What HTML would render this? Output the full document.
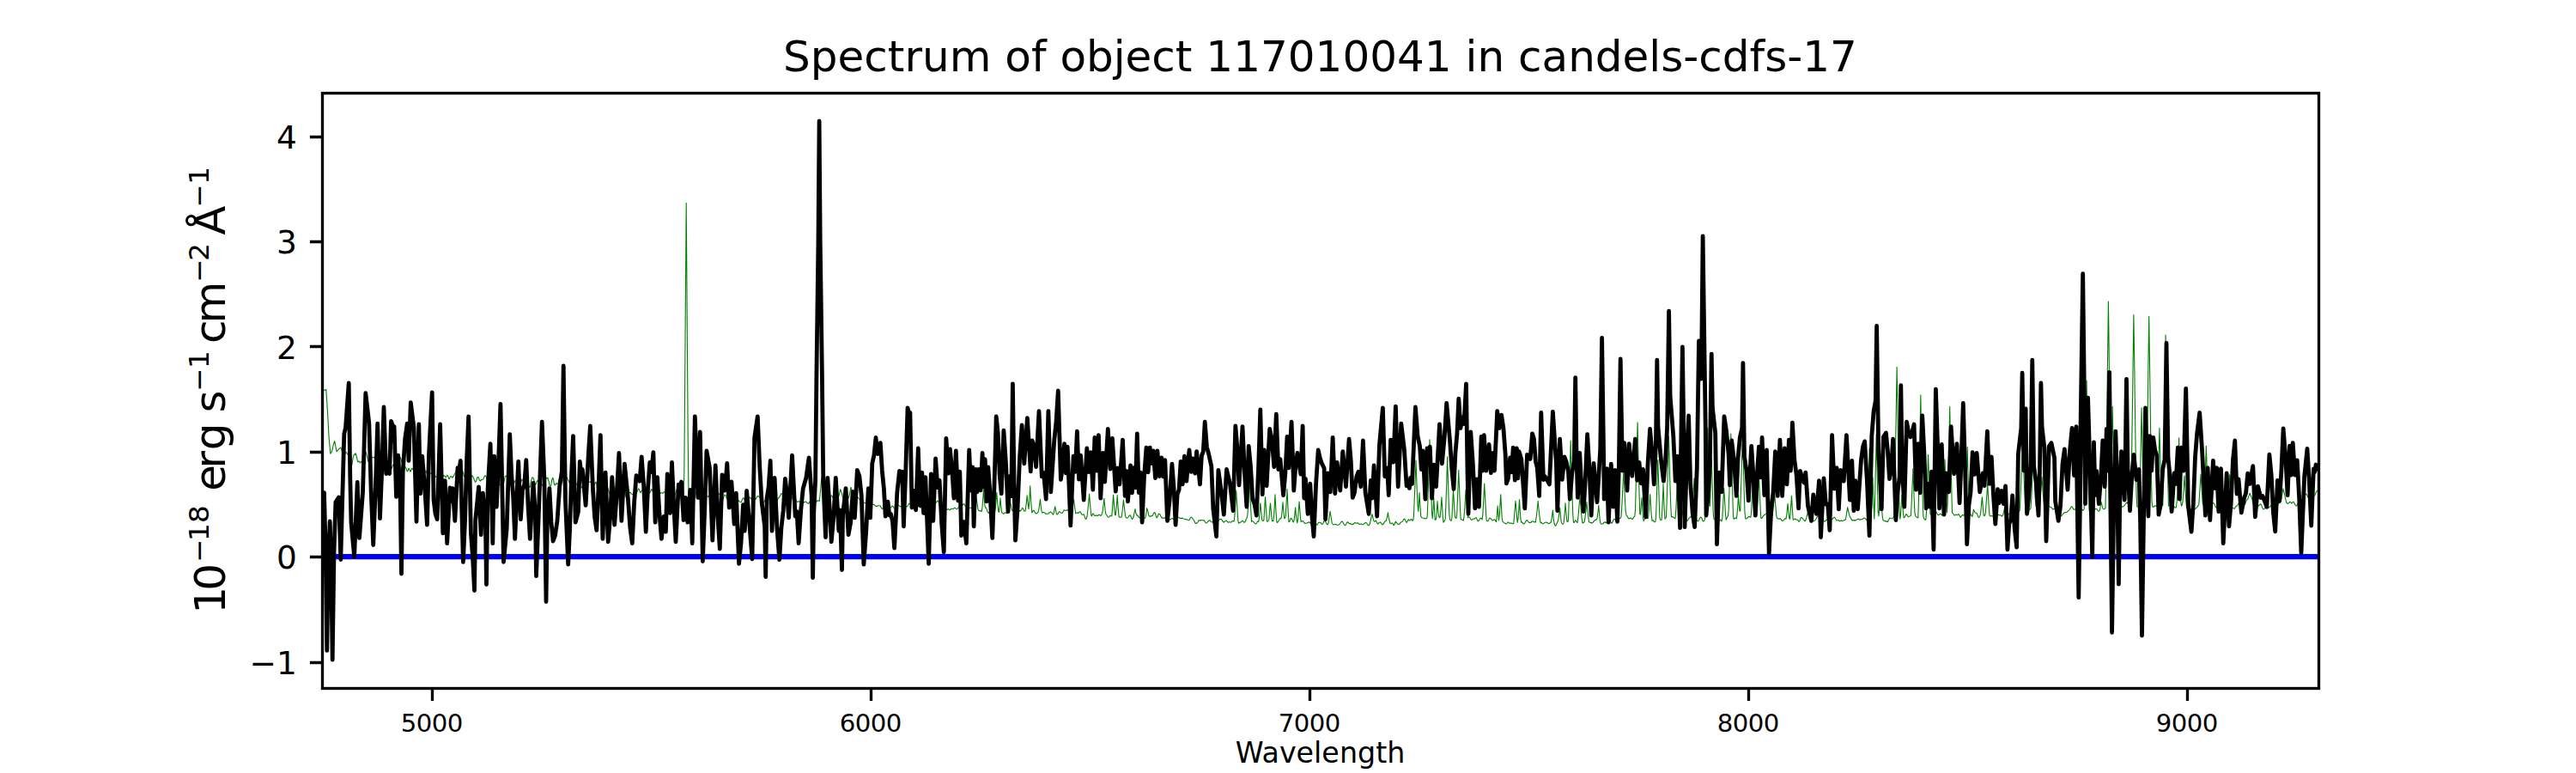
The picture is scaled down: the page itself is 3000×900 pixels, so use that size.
<!DOCTYPE html>
<html lang="en"><head><meta charset="utf-8"><title>Spectrum of object 117010041 in candels-cdfs-17</title>
<style>html,body{margin:0;padding:0;background:#fff}body{width:3000px;height:900px;overflow:hidden}</style></head>
<body>
<svg width="3000" height="900" viewBox="0 0 3000 900" style="display:block">
<rect width="3000" height="900" fill="#fff"/>
<defs><clipPath id="ax"><rect x="375" y="108" width="2325" height="693"/></clipPath></defs>
<g clip-path="url(#ax)" fill="none" stroke-linejoin="round">
<line x1="375" y1="648.00" x2="2700" y2="648.00" stroke="#0000ff" stroke-width="6.25"/>
<polyline points="375.0,455.0 377.4,454.4 379.8,453.4 381.5,480.0 383.0,508.0 384.8,528.2 386.5,526.0 388.0,519.0 389.7,513.5 392.1,525.8 394.5,523.0 397.0,520.8 399.5,530.7 400.0,535.9 400.8,533.3 401.5,529.8 402.2,525.9 403.0,526.4 403.8,527.2 404.5,528.7 405.2,529.1 406.0,529.2 406.8,529.8 407.5,531.9 408.2,536.9 409.0,540.6 409.8,541.4 410.5,537.3 411.2,532.6 412.0,530.1 412.8,528.9 413.5,529.4 414.2,527.7 415.0,530.3 415.8,533.9 416.5,537.7 417.2,537.7 418.0,536.9 418.8,537.4 419.5,538.9 420.2,538.1 421.0,537.3 421.8,538.8 422.5,540.2 423.2,539.7 424.0,534.8 424.8,530.7 425.5,527.7 426.2,526.7 427.0,529.5 427.8,533.2 428.5,536.6 429.2,536.6 430.0,535.5 430.8,534.9 431.5,533.6 432.2,532.3 433.0,531.8 433.8,532.8 434.5,532.7 435.2,532.4 436.0,532.3 436.8,536.1 437.5,540.5 438.2,544.1 439.0,545.8 439.8,544.6 440.5,543.1 441.2,538.5 442.0,536.0 442.8,531.5 443.5,532.0 444.2,533.7 445.0,538.9 445.8,542.6 446.5,543.1 447.2,542.5 448.0,540.1 448.8,538.9 449.5,537.7 450.2,539.2 451.0,541.0 451.8,543.0 452.5,541.9 453.2,543.0 454.0,543.4 454.8,546.1 455.5,545.7 456.2,545.4 457.0,542.9 457.8,541.8 458.5,539.6 459.2,540.4 460.0,540.0 460.8,541.2 461.5,541.1 462.2,542.1 463.0,543.2 463.8,543.7 464.5,540.4 465.2,535.8 466.0,532.3 466.8,533.8 467.5,536.1 468.2,538.9 469.0,539.9 469.8,541.5 470.5,542.5 471.2,543.4 472.0,543.5 472.8,544.5 473.5,547.1 474.2,549.0 475.0,548.1 475.8,545.5 476.5,545.7 477.2,547.8 478.0,549.3 478.8,547.3 479.5,545.5 480.2,545.3 481.0,546.7 481.8,547.1 482.5,546.2 483.2,546.2 484.0,546.4 484.8,547.9 485.5,548.5 486.2,550.4 487.0,550.6 487.8,551.1 488.5,549.8 489.2,550.4 490.0,549.1 490.8,547.8 491.5,545.4 492.2,545.5 493.0,547.6 493.8,549.9 494.5,550.7 495.2,549.6 496.0,548.2 496.8,549.5 497.5,552.4 498.2,555.5 499.0,555.5 499.8,553.4 500.5,551.5 501.2,551.0 502.0,551.4 502.8,550.8 503.5,548.6 504.2,546.9 505.0,547.6 505.8,551.2 506.5,553.8 507.2,555.4 508.0,554.8 508.8,555.2 509.5,555.3 510.2,556.0 511.0,555.7 511.8,555.5 512.5,554.0 513.2,553.7 514.0,552.5 514.8,553.8 515.5,553.8 516.2,554.5 517.0,553.6 517.8,554.6 518.5,555.0 519.2,555.9 520.0,554.5 520.8,553.3 521.5,554.0 522.2,555.7 523.0,557.7 523.8,556.7 524.5,554.9 525.2,554.6 526.0,554.8 526.8,556.1 527.5,555.4 528.2,554.1 529.0,552.8 529.8,551.2 530.5,550.2 531.2,548.8 532.0,550.2 532.8,553.6 533.5,558.5 534.2,561.0 535.0,561.3 535.8,558.8 536.5,554.5 537.2,550.7 538.0,547.7 538.8,548.4 539.5,550.6 540.2,553.9 541.0,554.8 541.8,552.9 542.5,550.9 543.2,550.2 544.0,552.7 544.8,554.3 545.5,556.6 546.2,558.0 547.0,560.4 547.8,559.6 548.5,557.1 549.2,554.3 550.0,553.8 550.8,554.9 551.5,556.4 552.2,558.5 553.0,560.5 553.8,561.4 554.5,560.5 555.2,558.0 556.0,555.8 556.8,555.4 557.5,556.2 558.2,559.2 559.0,559.4 559.8,560.1 560.5,558.4 561.2,558.5 562.0,558.2 562.8,557.7 563.5,556.4 564.2,554.7 565.0,553.6 565.8,554.5 566.5,555.7 567.2,559.1 568.0,557.7 568.8,556.5 569.5,552.7 570.2,553.8 571.0,555.6 571.8,558.3 572.5,559.2 573.2,558.9 574.0,560.1 574.8,561.6 575.5,563.6 576.2,561.6 577.0,559.1 577.8,555.5 578.5,554.5 579.2,555.3 580.0,559.0 580.8,563.1 581.5,564.5 582.2,564.8 583.0,564.4 583.8,565.8 584.5,565.9 585.2,565.8 586.0,564.7 586.8,561.8 587.5,558.6 588.2,554.6 589.0,554.1 589.8,554.5 590.5,555.3 591.2,555.2 592.0,556.9 592.8,560.2 593.5,563.8 594.2,564.3 595.0,563.2 595.8,562.4 596.5,561.9 597.2,563.3 598.0,562.5 598.8,562.6 599.5,560.3 600.2,559.8 601.0,559.3 601.8,559.1 602.5,560.7 603.2,561.8 604.0,564.6 604.8,564.4 605.5,564.8 606.2,562.3 607.0,560.9 607.8,558.1 608.5,558.7 609.2,559.2 610.0,561.6 610.8,561.8 611.5,563.3 612.2,565.2 613.0,568.4 613.8,568.8 614.5,566.7 615.2,565.1 616.0,566.2 616.8,567.5 617.5,566.4 618.2,561.9 619.0,558.6 619.8,555.8 620.5,556.1 621.2,556.4 622.0,559.5 622.8,562.1 623.5,564.8 624.2,563.4 625.0,560.7 625.8,559.5 626.5,560.2 627.2,561.4 628.0,559.9 628.8,559.1 629.5,559.5 630.2,562.1 631.0,563.8 631.8,565.6 632.5,564.5 633.2,563.4 634.0,561.0 634.8,559.4 635.5,558.2 636.2,556.2 637.0,556.9 637.8,556.0 638.5,559.0 639.2,560.7 640.0,565.2 640.8,566.3 641.5,566.0 642.2,561.9 643.0,557.7 643.8,556.2 644.5,558.5 645.2,562.5 646.0,564.9 646.8,564.6 647.5,563.2 648.2,562.5 649.0,563.5 649.8,563.3 650.5,560.8 651.2,557.7 652.0,558.0 652.8,559.3 653.5,560.9 654.2,559.0 655.0,558.8 655.8,559.2 656.5,563.9 657.2,565.7 658.0,565.6 658.8,560.1 659.5,557.6 660.2,555.6 661.0,557.9 661.8,559.1 662.5,560.6 663.2,562.1 664.0,563.4 664.8,564.7 665.5,562.7 666.2,560.1 667.0,556.9 667.8,557.2 668.5,559.2 669.2,563.0 670.0,564.4 670.8,565.0 671.5,563.3 672.2,562.9 673.0,563.1 673.8,563.6 674.5,564.8 675.2,565.0 676.0,566.8 676.8,566.6 677.5,568.1 678.2,566.8 679.0,566.8 679.8,564.3 680.5,564.6 681.2,565.0 682.0,566.2 682.8,565.3 683.5,562.4 684.2,561.0 685.0,560.2 685.8,561.6 686.5,561.1 687.2,561.4 688.0,560.7 688.8,562.2 689.5,563.5 690.2,565.0 691.0,565.1 691.8,565.1 692.5,563.8 693.2,562.4 694.0,561.1 694.8,563.7 695.5,568.3 696.2,573.0 697.0,574.4 697.8,572.3 698.5,569.3 699.2,567.5 700.0,569.2 700.8,570.7 701.5,571.3 702.2,570.1 703.0,571.4 703.8,573.1 704.5,574.1 705.2,571.7 706.0,568.8 706.8,566.8 707.5,567.4 708.2,569.4 709.0,572.4 709.8,574.6 710.5,574.9 711.2,574.0 712.0,571.9 712.8,571.1 713.5,571.1 714.2,572.3 715.0,572.0 715.8,570.1 716.5,567.6 717.2,566.6 718.0,566.2 718.8,567.3 719.5,570.2 720.2,573.7 721.0,576.1 721.8,576.1 722.5,575.5 723.2,574.2 724.0,572.5 724.8,572.0 725.5,571.2 726.2,571.0 727.0,570.5 727.8,572.8 728.5,576.7 729.2,579.1 730.0,580.0 730.8,578.7 731.5,577.7 732.2,575.6 733.0,573.6 733.8,573.4 734.5,573.4 735.2,575.0 736.0,575.2 736.8,575.9 737.5,575.4 738.2,575.2 739.0,574.9 739.8,575.0 740.5,574.7 741.2,574.3 742.0,572.6 742.8,570.6 743.5,568.9 744.2,569.7 745.0,571.6 745.8,573.8 746.5,572.6 747.2,571.3 748.0,570.5 748.8,572.9 749.5,575.0 750.2,575.3 751.0,573.3 751.8,571.2 752.5,569.4 753.2,568.7 754.0,568.7 754.8,570.3 755.5,572.7 756.2,574.1 757.0,573.5 757.8,571.6 758.5,569.6 759.2,570.2 760.0,571.4 760.8,574.2 761.5,574.9 762.2,573.8 763.0,571.8 763.8,571.4 764.5,572.8 765.2,573.4 766.0,573.2 766.8,572.9 767.5,574.2 768.2,574.5 769.0,574.6 769.8,573.5 770.5,573.7 771.2,574.1 772.0,574.5 772.8,573.1 773.5,573.0 774.2,572.2 775.0,574.0 775.8,573.1 776.5,573.9 777.2,573.7 778.0,574.6 778.8,574.9 779.5,574.2 780.2,573.8 781.0,572.7 781.8,571.8 782.5,570.8 783.2,571.0 784.0,572.2 784.8,574.5 785.5,575.9 786.2,576.2 787.0,573.7 787.8,570.9 788.5,569.4 789.2,570.7 790.0,572.6 790.8,574.2 791.5,573.7 792.2,573.0 793.0,571.4 793.8,573.0 794.5,575.8 795.2,578.5 796.0,578.0 796.8,549.7 797.5,464.6 798.2,369.2 799.0,266.4 799.2,236.4 799.8,312.4 800.5,413.8 801.2,509.0 802.0,581.8 802.8,581.2 803.5,578.3 804.2,576.3 805.0,576.0 805.8,577.3 806.5,578.6 807.2,579.8 808.0,580.3 808.8,579.8 809.5,577.3 810.2,574.5 811.0,572.4 811.8,571.7 812.5,572.5 813.2,573.9 814.0,576.3 814.8,576.8 815.5,575.8 816.2,573.7 817.0,573.9 817.8,574.8 818.5,576.5 819.2,576.1 820.0,577.3 820.8,577.7 821.5,578.7 822.2,577.7 823.0,577.5 823.8,577.7 824.5,578.5 825.2,578.1 826.0,576.7 826.8,576.3 827.5,577.8 828.2,580.3 829.0,580.8 829.8,578.9 830.5,576.4 831.2,575.4 832.0,575.7 832.8,576.2 833.5,576.0 834.2,577.0 835.0,577.5 835.8,578.2 836.5,576.5 837.2,575.8 838.0,574.5 838.8,575.9 839.5,578.9 840.2,582.4 841.0,583.9 841.8,582.3 842.5,579.7 843.2,577.8 844.0,575.9 844.8,576.4 845.5,577.2 846.2,580.2 847.0,580.3 847.8,580.2 848.5,579.1 849.2,579.7 850.0,579.7 850.8,578.8 851.5,577.5 852.2,577.1 853.0,578.6 853.8,579.9 854.5,580.0 855.2,579.2 856.0,578.5 856.8,579.4 857.5,579.4 858.2,579.8 859.0,580.3 859.8,581.9 860.5,583.2 861.2,583.8 862.0,584.5 862.8,584.8 863.5,584.3 864.2,582.3 865.0,580.4 865.8,579.7 866.5,580.7 867.2,581.6 868.0,581.8 868.8,580.5 869.5,580.2 870.2,579.8 871.0,581.1 871.8,580.5 872.5,580.3 873.2,578.9 874.0,579.6 874.8,580.7 875.5,582.4 876.2,581.7 877.0,580.3 877.8,578.9 878.5,580.1 879.2,581.3 880.0,581.5 880.8,579.5 881.5,578.3 882.2,577.5 883.0,577.7 883.8,578.1 884.5,578.9 885.2,579.7 886.0,580.0 886.8,581.4 887.5,582.5 888.2,584.0 889.0,584.2 889.8,584.4 890.5,583.4 891.2,581.6 892.0,580.9 892.8,579.8 893.5,580.3 894.2,579.3 895.0,580.5 895.8,580.8 896.5,582.2 897.2,582.0 898.0,582.0 898.8,580.5 899.5,579.7 900.2,578.4 901.0,579.2 901.8,580.1 902.5,582.7 903.2,584.1 904.0,585.2 904.8,583.2 905.5,582.1 906.2,579.8 907.0,579.7 907.8,578.0 908.5,577.7 909.2,575.5 910.0,574.5 910.8,574.8 911.5,576.8 912.2,578.9 913.0,579.9 913.8,580.4 914.5,579.2 915.2,578.3 916.0,577.8 916.8,579.5 917.5,579.9 918.2,578.7 919.0,577.7 919.8,578.4 920.5,580.3 921.2,580.3 922.0,580.2 922.8,579.9 923.5,580.6 924.2,579.9 925.0,579.3 925.8,579.5 926.5,581.3 927.2,583.2 928.0,584.0 928.8,584.4 929.5,584.0 930.2,583.9 931.0,584.0 931.8,584.6 932.5,585.0 933.2,584.6 934.0,583.9 934.8,583.8 935.5,584.2 936.2,585.0 937.0,584.6 937.8,584.2 938.5,584.0 939.2,584.6 940.0,585.7 940.8,586.0 941.5,586.5 942.2,585.0 943.0,584.2 943.8,582.6 944.5,581.1 945.2,574.8 946.0,568.0 946.1,566.6 946.8,571.6 947.5,577.4 948.2,581.0 949.0,582.5 949.8,583.8 950.5,584.2 951.2,583.7 952.0,582.6 952.8,582.9 953.5,583.2 954.2,583.5 955.0,577.0 955.8,568.2 956.5,559.4 956.8,557.0 957.2,562.0 958.0,569.8 958.8,577.2 959.5,581.5 960.2,582.6 961.0,583.1 961.8,582.0 962.5,580.8 963.2,579.2 964.0,579.1 964.8,579.2 965.5,579.9 966.2,579.4 967.0,578.8 967.8,577.1 968.5,577.0 969.2,577.6 970.0,579.6 970.8,580.1 971.5,579.8 972.2,578.7 973.0,578.2 973.8,577.7 974.5,577.3 975.2,577.9 976.0,579.0 976.8,577.9 977.5,575.4 978.2,572.2 978.7,569.9 979.0,570.5 979.8,572.6 980.5,574.7 981.2,578.2 982.0,580.3 982.8,581.8 983.5,581.2 984.2,580.3 985.0,579.1 985.8,579.2 986.5,579.5 987.2,580.2 988.0,580.2 988.8,578.2 989.5,574.8 990.2,571.3 991.0,567.4 991.8,570.6 992.5,574.2 993.2,577.2 994.0,578.7 994.8,578.2 995.5,577.9 996.2,578.5 997.0,578.4 997.8,578.2 998.5,578.5 999.2,578.9 1000.0,580.5 1000.8,581.4 1001.5,581.9 1002.2,580.6 1003.0,580.2 1003.8,580.7 1004.5,582.6 1005.2,584.0 1006.0,585.0 1006.8,585.7 1007.5,585.6 1008.2,585.7 1009.0,585.1 1009.8,585.0 1010.5,585.2 1011.2,586.3 1012.0,586.8 1012.8,585.5 1013.5,583.5 1014.2,583.3 1015.0,584.9 1015.8,586.8 1016.5,587.2 1017.2,587.5 1018.0,587.3 1018.8,588.5 1019.5,588.8 1020.2,589.6 1021.0,589.4 1021.8,589.2 1022.5,588.8 1023.2,588.7 1024.0,588.8 1024.8,589.0 1025.5,589.4 1026.2,591.1 1027.0,592.1 1027.8,592.5 1028.5,591.2 1029.2,590.0 1030.0,589.0 1030.8,588.9 1031.5,589.2 1032.2,590.3 1033.0,590.5 1033.8,590.6 1034.5,589.1 1035.2,589.4 1036.0,589.8 1036.8,591.3 1037.5,591.0 1038.2,590.3 1039.0,589.1 1039.8,589.4 1040.5,590.1 1041.2,591.9 1042.0,592.4 1042.8,593.1 1043.5,592.2 1044.2,591.5 1045.0,589.1 1045.8,587.8 1046.5,588.0 1047.2,588.9 1048.0,589.6 1048.8,589.6 1049.5,590.0 1050.2,589.7 1051.0,587.8 1051.8,586.3 1052.5,585.8 1053.2,587.5 1054.0,588.9 1054.8,590.0 1055.5,589.9 1056.2,589.9 1057.0,589.0 1057.8,588.0 1058.5,586.7 1059.2,586.3 1060.0,586.8 1060.8,587.9 1061.5,589.3 1062.2,589.9 1063.0,589.2 1063.8,588.5 1064.5,588.2 1065.2,589.0 1066.0,588.8 1066.8,589.0 1067.5,589.2 1068.2,589.9 1069.0,589.8 1069.8,589.5 1070.5,589.5 1071.2,590.7 1072.0,591.0 1072.8,591.3 1073.5,591.0 1074.2,591.6 1075.0,591.8 1075.8,591.1 1076.5,589.6 1077.2,588.7 1078.0,588.7 1078.8,588.6 1079.5,587.4 1080.2,585.9 1081.0,585.3 1081.8,586.7 1082.5,588.5 1083.2,589.8 1084.0,589.7 1084.8,589.0 1085.5,587.8 1086.2,587.7 1087.0,587.4 1087.8,587.8 1088.5,587.1 1089.2,586.7 1090.0,585.4 1090.8,584.4 1091.5,583.1 1092.2,583.4 1093.0,584.2 1093.8,587.3 1094.5,589.6 1095.2,591.0 1096.0,589.6 1096.8,588.8 1097.5,588.3 1098.2,590.0 1099.0,589.7 1099.8,590.0 1100.5,589.5 1101.2,591.3 1102.0,592.7 1102.8,593.6 1103.5,593.2 1104.2,592.8 1105.0,592.9 1105.8,593.6 1106.5,593.7 1107.2,592.9 1108.0,592.3 1108.8,592.2 1109.5,592.8 1110.2,592.5 1111.0,591.9 1111.8,591.2 1112.5,591.5 1113.2,592.1 1114.0,592.8 1114.8,592.4 1115.5,591.9 1116.2,590.9 1117.0,590.1 1117.8,588.7 1118.5,588.3 1119.2,588.3 1120.0,588.8 1120.8,588.5 1121.5,587.4 1122.2,586.6 1123.0,586.9 1123.8,588.5 1124.5,589.9 1125.2,590.3 1126.0,590.7 1126.8,591.3 1127.5,592.0 1128.2,591.6 1129.0,591.3 1129.8,591.2 1130.5,591.7 1131.2,591.5 1132.0,591.1 1132.8,591.2 1133.5,591.0 1134.2,591.8 1135.0,591.7 1135.8,590.4 1136.5,585.3 1137.2,580.2 1137.2,580.3 1138.0,586.0 1138.8,592.1 1139.5,594.3 1140.2,594.6 1141.0,594.6 1141.8,595.0 1142.5,595.0 1143.2,595.7 1144.0,590.5 1144.8,580.5 1145.4,570.1 1145.5,570.7 1146.2,581.0 1147.0,589.1 1147.8,591.3 1148.5,591.3 1149.2,593.1 1150.0,595.8 1150.8,596.9 1151.5,597.4 1152.2,596.1 1153.0,595.4 1153.8,594.4 1154.5,594.3 1155.2,595.0 1156.0,595.9 1156.8,596.7 1157.5,596.1 1158.2,595.7 1159.0,593.8 1159.8,586.0 1160.5,576.6 1160.8,573.4 1161.2,579.0 1162.0,588.4 1162.8,595.5 1163.5,596.3 1164.2,589.5 1165.0,580.0 1165.8,589.1 1166.5,596.2 1167.2,596.9 1168.0,597.7 1168.8,598.4 1169.5,597.8 1170.2,596.9 1171.0,596.6 1171.8,597.5 1172.5,597.7 1173.2,595.7 1174.0,593.3 1174.8,588.7 1175.5,586.5 1176.2,582.7 1176.2,583.6 1177.0,586.4 1177.8,590.9 1178.5,594.1 1179.2,594.6 1180.0,594.1 1180.8,594.1 1181.5,594.1 1182.2,594.1 1183.0,594.0 1183.8,594.4 1184.5,594.8 1185.2,595.3 1186.0,594.9 1186.8,595.0 1187.5,594.5 1188.2,595.2 1189.0,593.9 1189.8,593.4 1190.5,591.3 1191.2,592.0 1192.0,593.0 1192.8,595.1 1193.5,595.1 1194.2,594.8 1195.0,588.1 1195.8,581.0 1196.1,576.7 1196.5,580.4 1197.2,587.2 1198.0,592.6 1198.8,582.3 1199.5,570.3 1199.7,565.7 1200.2,575.7 1201.0,588.0 1201.8,597.0 1202.5,595.8 1203.2,594.9 1204.0,594.1 1204.8,595.6 1205.5,596.8 1206.2,598.0 1207.0,597.5 1207.8,597.6 1208.5,596.7 1209.2,595.9 1210.0,592.1 1210.8,586.7 1211.5,581.3 1212.2,589.0 1213.0,594.9 1213.8,597.1 1214.5,596.9 1215.2,596.3 1216.0,596.8 1216.8,597.1 1217.5,598.2 1218.2,598.3 1219.0,598.1 1219.8,598.2 1220.5,598.2 1221.2,597.9 1222.0,596.6 1222.8,596.3 1223.5,595.9 1224.2,596.7 1225.0,597.0 1225.8,598.4 1226.5,599.1 1227.2,597.5 1228.0,593.3 1228.7,589.7 1228.8,590.2 1229.5,594.0 1230.2,597.6 1231.0,598.9 1231.8,598.9 1232.5,597.2 1233.2,596.3 1234.0,595.8 1234.8,596.5 1235.5,596.9 1236.2,597.2 1237.0,597.4 1237.8,596.3 1238.5,595.2 1239.2,593.8 1240.0,594.3 1240.8,594.3 1241.5,594.4 1242.2,593.9 1243.0,593.7 1243.8,594.0 1244.5,594.7 1245.2,595.1 1246.0,595.3 1246.8,594.7 1247.5,594.5 1248.2,593.6 1249.0,590.2 1249.8,585.6 1250.4,581.1 1250.5,581.3 1251.2,587.4 1252.0,593.2 1252.8,598.0 1253.5,597.2 1254.2,597.1 1255.0,596.9 1255.8,597.6 1256.5,596.8 1257.2,595.9 1258.0,595.9 1258.8,596.7 1259.5,598.7 1260.2,599.1 1261.0,599.2 1261.8,598.7 1262.5,599.5 1263.2,601.7 1264.0,603.9 1264.8,604.5 1265.5,602.6 1266.2,600.0 1267.0,592.5 1267.8,584.4 1268.5,576.5 1268.6,575.0 1269.2,583.1 1270.0,591.8 1270.8,600.0 1271.5,601.0 1272.2,599.0 1273.0,597.9 1273.8,598.6 1274.5,600.4 1275.2,600.5 1276.0,600.2 1276.8,599.8 1277.5,600.5 1278.2,600.4 1279.0,600.0 1279.8,599.2 1280.5,599.3 1281.2,600.1 1282.0,600.4 1282.8,599.6 1283.5,597.8 1284.2,594.9 1285.0,588.3 1285.8,581.1 1285.8,580.2 1286.5,587.5 1287.2,594.9 1288.0,598.9 1288.8,599.6 1289.5,600.7 1290.2,601.9 1291.0,602.4 1291.8,601.9 1292.5,600.9 1293.2,600.2 1294.0,600.3 1294.8,600.9 1295.5,592.4 1296.2,581.9 1296.6,576.2 1297.0,581.6 1297.8,591.6 1298.5,599.4 1299.2,599.9 1300.0,592.5 1300.8,583.4 1301.2,576.6 1301.5,581.3 1302.2,591.8 1303.0,601.3 1303.8,602.3 1304.5,602.1 1305.2,602.2 1306.0,602.3 1306.8,597.7 1307.5,591.2 1308.2,584.1 1308.4,582.1 1309.0,587.6 1309.8,594.2 1310.5,600.7 1311.2,602.4 1312.0,603.1 1312.8,602.9 1313.5,602.7 1314.2,601.7 1315.0,600.4 1315.8,599.9 1316.5,600.0 1317.2,602.0 1318.0,603.8 1318.8,604.5 1319.5,603.3 1320.2,601.3 1321.0,597.1 1321.8,593.8 1322.0,592.6 1322.5,595.7 1323.2,598.3 1324.0,600.3 1324.8,600.0 1325.5,600.9 1326.2,602.1 1327.0,602.3 1327.8,603.1 1328.5,603.0 1329.2,603.0 1330.0,603.0 1330.8,602.9 1331.5,603.3 1332.2,602.9 1333.0,603.6 1333.8,602.9 1334.5,599.9 1335.2,595.7 1335.6,591.6 1336.0,592.6 1336.8,595.1 1337.5,599.0 1338.2,600.6 1339.0,601.4 1339.8,600.8 1340.5,601.1 1341.2,600.6 1342.0,600.7 1342.8,599.3 1343.5,597.8 1344.2,596.6 1345.0,597.0 1345.8,599.1 1346.5,601.6 1347.2,602.9 1348.0,601.8 1348.8,599.6 1349.5,598.0 1350.2,598.4 1351.0,599.0 1351.8,601.1 1352.5,601.9 1353.2,603.2 1354.0,602.8 1354.8,603.4 1355.5,603.3 1356.2,603.3 1357.0,602.3 1357.8,601.4 1358.5,599.4 1359.2,599.0 1360.0,599.8 1360.8,602.1 1361.5,604.0 1362.2,604.8 1363.0,605.2 1363.8,604.0 1364.5,603.8 1365.2,603.5 1366.0,604.0 1366.8,604.2 1367.5,604.9 1368.2,606.1 1369.0,606.1 1369.8,604.7 1370.5,602.5 1371.2,601.6 1372.0,601.8 1372.8,602.5 1373.5,603.1 1374.2,603.3 1375.0,603.7 1375.8,603.3 1376.5,603.4 1377.2,603.1 1378.0,603.6 1378.8,604.1 1379.5,604.7 1380.2,604.7 1381.0,604.4 1381.8,604.7 1382.5,604.9 1383.2,605.5 1384.0,605.7 1384.8,605.7 1385.5,604.7 1386.2,603.0 1387.0,602.2 1387.8,602.3 1388.5,603.6 1389.2,604.0 1390.0,605.0 1390.8,606.5 1391.5,608.1 1392.2,609.4 1393.0,609.1 1393.8,609.4 1394.5,608.5 1395.2,607.6 1396.0,605.9 1396.8,605.7 1397.5,605.9 1398.2,606.2 1399.0,605.5 1399.8,605.8 1400.5,605.8 1401.2,606.0 1402.0,605.5 1402.8,606.4 1403.5,607.8 1404.2,609.1 1405.0,608.8 1405.8,608.4 1406.5,607.5 1407.2,607.0 1408.0,606.1 1408.8,605.8 1409.5,606.1 1410.2,607.1 1411.0,608.0 1411.8,607.9 1412.5,607.7 1413.2,606.0 1414.0,604.5 1414.8,602.6 1415.5,602.4 1416.2,603.3 1417.0,604.7 1417.8,605.9 1418.5,606.3 1419.2,605.9 1420.0,605.1 1420.8,604.4 1421.5,604.2 1422.2,604.7 1423.0,605.3 1423.8,606.8 1424.5,607.3 1425.2,608.2 1426.0,607.4 1426.8,607.0 1427.5,606.0 1428.2,606.2 1429.0,606.9 1429.8,607.9 1430.5,608.3 1431.2,607.8 1432.0,607.8 1432.8,608.0 1433.5,608.3 1434.2,607.6 1435.0,606.8 1435.8,606.6 1436.5,606.9 1437.2,607.0 1438.0,598.4 1438.8,586.9 1439.5,574.5 1439.7,571.0 1440.2,580.8 1441.0,593.9 1441.8,605.6 1442.5,609.4 1443.2,608.9 1444.0,608.2 1444.8,608.2 1445.5,607.5 1446.2,606.9 1447.0,606.2 1447.8,607.0 1448.5,607.8 1449.2,608.4 1450.0,607.4 1450.8,606.1 1451.5,603.7 1452.2,602.7 1453.0,598.7 1453.8,585.8 1454.5,569.9 1455.1,555.3 1455.2,558.4 1456.0,577.2 1456.8,594.0 1457.5,607.3 1458.2,606.4 1459.0,606.9 1459.8,607.5 1460.5,608.4 1461.2,609.2 1462.0,609.8 1462.8,610.0 1463.5,609.0 1464.2,607.8 1465.0,606.9 1465.8,607.2 1466.5,602.0 1467.2,593.4 1467.8,585.8 1468.0,587.6 1468.8,596.4 1469.5,604.2 1470.2,606.2 1471.0,606.5 1471.8,606.0 1472.5,596.1 1473.2,583.6 1473.6,578.6 1474.0,585.3 1474.8,597.9 1475.5,606.9 1476.2,607.2 1477.0,606.6 1477.8,605.1 1478.5,596.8 1479.2,588.3 1479.6,585.8 1480.0,591.8 1480.8,600.4 1481.5,606.6 1482.2,606.5 1483.0,606.7 1483.8,598.2 1484.5,584.6 1485.0,575.8 1485.2,580.2 1486.0,595.2 1486.8,607.1 1487.5,608.6 1488.2,607.9 1489.0,606.5 1489.8,605.5 1490.5,603.8 1491.2,603.8 1492.0,603.9 1492.8,598.6 1493.5,590.5 1494.0,584.7 1494.2,588.4 1495.0,596.7 1495.8,603.8 1496.5,603.2 1497.2,601.1 1498.0,587.9 1498.8,574.1 1499.0,569.2 1499.5,580.9 1500.2,596.3 1501.0,607.8 1501.8,607.0 1502.5,605.4 1503.2,603.4 1504.0,603.5 1504.8,604.9 1505.5,606.8 1506.2,608.0 1507.0,606.1 1507.8,599.6 1508.5,591.9 1508.6,590.9 1509.2,598.1 1510.0,605.2 1510.8,608.8 1511.5,605.0 1512.2,595.8 1513.0,585.1 1513.1,584.0 1513.8,593.3 1514.5,602.8 1515.2,607.6 1516.0,606.7 1516.8,606.8 1517.5,606.6 1518.2,608.0 1519.0,608.7 1519.8,609.5 1520.5,609.3 1521.2,609.2 1522.0,609.0 1522.8,608.6 1523.5,608.4 1524.2,607.8 1525.0,607.9 1525.8,608.8 1526.5,610.1 1527.2,610.8 1528.0,610.3 1528.8,610.6 1529.5,611.3 1530.2,611.3 1531.0,609.8 1531.8,608.3 1532.5,609.3 1533.2,610.7 1534.0,611.2 1534.8,609.7 1535.5,608.3 1536.2,608.3 1537.0,608.2 1537.8,608.7 1538.5,608.9 1539.2,610.2 1540.0,610.4 1540.8,609.5 1541.5,607.4 1542.2,606.6 1543.0,606.5 1543.8,607.7 1544.5,608.8 1545.2,610.3 1546.0,610.9 1546.8,610.2 1547.5,605.8 1548.2,600.9 1549.0,595.4 1549.8,600.0 1550.5,604.5 1551.2,609.0 1552.0,610.0 1552.8,610.9 1553.5,610.7 1554.2,610.8 1555.0,610.1 1555.8,610.8 1556.5,610.9 1557.2,611.2 1558.0,611.2 1558.8,611.1 1559.5,610.8 1560.2,610.0 1561.0,609.0 1561.8,607.9 1562.5,607.0 1563.2,607.1 1564.0,608.2 1564.8,609.7 1565.5,611.1 1566.2,611.6 1567.0,611.5 1567.8,610.1 1568.5,608.7 1569.2,607.7 1570.0,608.3 1570.8,609.0 1571.5,609.8 1572.2,609.4 1573.0,610.1 1573.8,610.0 1574.5,610.8 1575.2,610.2 1576.0,610.4 1576.8,609.3 1577.5,609.1 1578.2,608.5 1579.0,609.0 1579.8,609.2 1580.5,608.8 1581.2,609.1 1582.0,609.1 1582.8,610.3 1583.5,610.4 1584.2,610.3 1585.0,610.0 1585.8,610.1 1586.5,610.8 1587.2,610.7 1588.0,610.2 1588.8,609.6 1589.5,608.9 1590.2,608.7 1591.0,608.5 1591.8,609.5 1592.5,610.5 1593.2,611.7 1594.0,611.6 1594.8,611.0 1595.5,609.3 1596.2,605.8 1597.0,602.1 1597.8,598.9 1598.0,598.8 1598.5,600.8 1599.2,604.1 1600.0,606.5 1600.8,607.5 1601.5,606.7 1602.2,606.1 1603.0,607.3 1603.8,609.1 1604.5,610.1 1605.2,609.7 1606.0,608.7 1606.8,608.3 1607.5,607.9 1608.2,608.8 1609.0,609.6 1609.8,610.9 1610.5,610.5 1611.2,610.0 1612.0,608.3 1612.8,607.3 1613.5,606.8 1614.2,606.7 1615.0,604.0 1615.8,600.4 1616.4,596.8 1616.5,597.7 1617.2,602.2 1618.0,605.7 1618.8,609.0 1619.5,609.5 1620.2,609.7 1621.0,609.0 1621.8,609.0 1622.5,610.6 1623.2,611.7 1624.0,610.4 1624.8,608.2 1625.5,607.1 1626.2,608.4 1627.0,609.2 1627.8,610.3 1628.5,610.3 1629.2,610.7 1630.0,610.0 1630.8,608.9 1631.5,608.1 1632.2,607.7 1633.0,607.5 1633.8,606.4 1634.5,605.1 1635.2,604.2 1636.0,604.4 1636.8,605.8 1637.5,607.7 1638.2,608.4 1639.0,607.2 1639.8,605.5 1640.5,604.9 1641.2,605.9 1642.0,606.0 1642.8,605.1 1643.5,604.4 1644.2,604.7 1645.0,606.3 1645.8,605.8 1646.5,599.6 1647.2,582.0 1648.0,563.8 1648.8,543.2 1649.0,536.1 1649.5,550.0 1650.2,569.7 1651.0,588.2 1651.8,595.5 1652.5,583.1 1653.0,573.6 1653.2,578.4 1654.0,590.5 1654.8,601.3 1655.5,602.5 1656.2,602.8 1657.0,603.1 1657.8,603.3 1658.5,603.5 1659.2,603.8 1660.0,604.0 1660.8,603.6 1661.5,603.5 1662.2,601.3 1663.0,580.6 1663.8,555.9 1664.5,529.6 1665.0,511.7 1665.2,520.7 1666.0,547.6 1666.8,572.9 1667.5,595.8 1668.2,603.6 1669.0,594.0 1669.8,580.0 1669.8,579.5 1670.5,593.2 1671.2,605.1 1672.0,605.3 1672.8,602.7 1673.5,592.0 1674.0,583.5 1674.2,586.6 1675.0,596.5 1675.8,601.6 1676.5,602.8 1677.2,601.5 1678.0,592.4 1678.8,580.8 1678.9,578.7 1679.5,588.8 1680.2,601.3 1681.0,608.1 1681.8,607.1 1682.5,606.0 1683.2,604.7 1684.0,584.8 1684.8,560.6 1685.5,534.8 1685.6,531.9 1686.2,553.8 1687.0,577.8 1687.8,598.4 1688.5,604.4 1689.2,605.8 1690.0,606.4 1690.8,603.9 1691.5,591.0 1692.2,576.2 1692.5,570.6 1693.0,579.0 1693.8,592.4 1694.5,601.7 1695.2,603.2 1696.0,603.3 1696.8,597.5 1697.5,579.4 1698.2,560.9 1698.8,547.4 1699.0,554.5 1699.8,574.4 1700.5,592.0 1701.2,604.6 1702.0,604.7 1702.8,605.2 1703.5,605.5 1704.2,606.2 1705.0,601.9 1705.8,591.8 1706.5,579.2 1707.0,570.4 1707.2,573.6 1708.0,585.1 1708.8,595.8 1709.5,602.8 1710.2,602.0 1711.0,601.9 1711.8,602.5 1712.5,604.0 1713.2,605.2 1714.0,605.3 1714.8,604.8 1715.5,604.4 1716.2,604.1 1717.0,604.2 1717.8,603.4 1718.5,602.9 1719.2,602.8 1720.0,604.4 1720.8,606.2 1721.5,607.0 1722.2,606.2 1723.0,605.0 1723.8,603.5 1724.5,603.4 1725.2,603.5 1726.0,605.0 1726.8,599.8 1727.5,587.4 1728.2,572.8 1728.7,563.1 1729.0,568.8 1729.8,583.4 1730.5,597.1 1731.2,606.0 1732.0,606.4 1732.8,606.8 1733.5,605.7 1734.2,604.2 1735.0,603.2 1735.8,603.3 1736.5,604.4 1737.2,605.2 1738.0,605.9 1738.8,605.7 1739.5,605.2 1740.2,604.9 1741.0,605.0 1741.8,606.7 1742.5,607.6 1743.2,602.0 1744.0,591.0 1744.1,589.1 1744.8,597.2 1745.5,605.8 1746.2,600.0 1747.0,588.6 1747.7,575.9 1747.8,577.2 1748.5,590.4 1749.2,602.9 1750.0,607.3 1750.8,607.9 1751.5,608.4 1752.2,609.0 1753.0,609.2 1753.8,610.0 1754.5,609.8 1755.2,609.0 1756.0,608.0 1756.8,608.1 1757.5,608.9 1758.2,609.0 1759.0,609.3 1759.8,608.9 1760.5,609.2 1761.2,609.6 1762.0,609.9 1762.8,609.2 1763.5,601.2 1764.2,592.6 1765.0,583.3 1765.8,592.6 1766.5,601.0 1767.2,608.3 1768.0,604.2 1768.8,593.6 1769.5,581.5 1770.2,594.2 1771.0,604.5 1771.8,608.3 1772.5,607.9 1773.2,608.6 1774.0,609.8 1774.8,609.9 1775.5,609.5 1776.2,608.2 1777.0,606.8 1777.8,605.8 1778.5,605.6 1779.2,606.7 1780.0,607.8 1780.8,608.3 1781.5,608.7 1782.2,608.2 1783.0,608.4 1783.8,607.1 1784.5,607.0 1785.2,606.8 1786.0,607.5 1786.8,607.9 1787.5,607.6 1788.2,608.1 1789.0,603.5 1789.8,597.4 1790.5,590.3 1791.2,583.3 1791.2,584.0 1792.0,592.2 1792.8,599.6 1793.5,605.7 1794.2,608.9 1795.0,608.2 1795.8,609.2 1796.5,609.8 1797.2,610.0 1798.0,609.1 1798.8,608.6 1799.5,608.3 1800.2,608.2 1801.0,608.0 1801.8,608.8 1802.5,608.8 1803.2,609.8 1804.0,609.4 1804.8,609.4 1805.5,608.5 1806.2,607.8 1807.0,604.6 1807.8,598.7 1808.4,594.1 1808.5,595.9 1809.2,603.2 1810.0,609.3 1810.8,611.5 1811.5,612.3 1812.2,611.6 1813.0,609.8 1813.8,607.3 1814.5,606.5 1815.2,602.5 1816.0,596.9 1816.6,591.4 1816.8,593.7 1817.5,600.6 1818.2,607.4 1819.0,609.6 1819.8,610.3 1820.5,610.1 1821.2,608.4 1822.0,599.8 1822.8,590.2 1823.0,585.9 1823.5,591.7 1824.2,600.3 1825.0,607.3 1825.8,607.6 1826.5,605.2 1827.2,582.8 1828.0,557.4 1828.8,529.8 1829.2,513.1 1829.5,523.4 1830.2,549.6 1831.0,574.7 1831.8,599.4 1832.5,608.3 1833.2,608.5 1834.0,607.0 1834.8,605.8 1835.5,606.7 1836.2,607.9 1837.0,608.6 1837.8,603.2 1838.5,595.5 1839.2,586.8 1840.0,579.3 1840.8,587.8 1841.5,596.7 1842.2,604.1 1843.0,609.1 1843.8,608.4 1844.5,608.4 1845.2,607.4 1846.0,602.4 1846.8,596.0 1847.5,588.6 1848.0,584.5 1848.2,587.5 1849.0,595.8 1849.8,602.4 1850.5,607.5 1851.2,608.2 1852.0,608.4 1852.8,608.3 1853.5,609.3 1854.2,608.5 1855.0,608.5 1855.8,607.1 1856.5,607.0 1857.2,605.6 1858.0,605.6 1858.8,604.8 1859.5,605.1 1860.2,602.4 1861.0,595.8 1861.8,588.4 1861.8,588.8 1862.5,597.1 1863.2,605.1 1864.0,609.4 1864.8,609.9 1865.5,610.3 1866.2,609.9 1867.0,609.7 1867.8,608.2 1868.5,608.2 1869.2,607.7 1870.0,608.7 1870.8,608.4 1871.5,608.4 1872.2,607.6 1873.0,606.0 1873.8,604.4 1874.5,604.2 1875.2,605.8 1876.0,608.2 1876.8,609.1 1877.5,609.0 1878.2,607.2 1879.0,605.4 1879.8,604.2 1880.5,604.5 1881.2,605.4 1882.0,605.8 1882.8,605.8 1883.5,605.1 1884.2,604.0 1885.0,603.4 1885.8,603.5 1886.5,603.7 1887.2,603.0 1888.0,601.8 1888.8,589.6 1889.5,576.0 1890.2,560.6 1890.8,548.7 1891.0,552.5 1891.8,568.3 1892.5,582.4 1893.2,595.1 1894.0,600.0 1894.8,600.5 1895.5,601.8 1896.2,603.2 1897.0,603.9 1897.8,603.5 1898.5,603.2 1899.2,603.0 1900.0,604.1 1900.8,604.4 1901.5,604.2 1902.2,602.9 1903.0,601.8 1903.8,601.1 1904.5,593.6 1905.2,566.6 1906.0,536.4 1906.8,505.3 1907.1,491.8 1907.5,510.8 1908.2,543.3 1909.0,572.6 1909.8,598.5 1910.5,599.0 1911.2,589.6 1912.0,579.6 1912.8,592.5 1913.5,603.0 1914.2,606.8 1915.0,604.9 1915.8,604.0 1916.5,603.5 1917.2,603.2 1918.0,603.0 1918.8,604.0 1919.5,603.1 1920.2,595.5 1921.0,584.8 1921.6,575.6 1921.8,577.4 1922.5,589.3 1923.2,599.1 1924.0,606.2 1924.8,605.6 1925.5,605.9 1926.2,607.6 1927.0,607.8 1927.8,607.4 1928.5,602.8 1929.2,582.7 1930.0,559.6 1930.7,535.6 1930.8,535.8 1931.5,559.8 1932.2,583.3 1933.0,603.5 1933.8,605.2 1934.5,605.6 1935.2,605.0 1936.0,589.8 1936.8,571.2 1937.0,563.3 1937.5,575.6 1938.2,592.8 1939.0,604.3 1939.8,602.9 1940.5,602.3 1941.2,582.9 1942.0,558.6 1942.8,532.3 1943.4,507.7 1943.5,511.5 1944.2,539.5 1945.0,565.8 1945.8,589.5 1946.5,602.0 1947.2,601.5 1948.0,601.6 1948.8,602.2 1949.5,602.7 1950.2,603.4 1951.0,603.6 1951.8,593.9 1952.5,578.9 1953.2,563.7 1953.5,559.9 1954.0,572.1 1954.8,587.0 1955.5,599.1 1956.2,603.1 1957.0,602.9 1957.8,603.3 1958.5,602.7 1959.2,598.8 1960.0,593.8 1960.8,587.3 1961.0,584.6 1961.5,588.4 1962.2,594.3 1963.0,600.4 1963.8,605.1 1964.5,606.8 1965.2,606.2 1966.0,605.4 1966.8,603.4 1967.5,602.9 1968.2,602.1 1969.0,602.2 1969.8,601.4 1970.5,602.0 1971.2,590.3 1972.0,576.5 1972.8,560.4 1972.9,556.9 1973.5,569.9 1974.2,585.6 1975.0,600.2 1975.8,605.1 1976.5,606.3 1977.2,606.8 1978.0,606.5 1978.8,605.2 1979.5,603.6 1980.2,602.5 1981.0,602.1 1981.8,603.2 1982.5,604.6 1983.2,606.9 1984.0,606.7 1984.8,606.2 1985.5,604.5 1986.2,593.8 1987.0,567.8 1987.8,538.8 1988.5,507.0 1988.7,498.4 1989.2,521.7 1990.0,552.5 1990.8,580.9 1991.5,589.2 1992.2,566.2 1993.0,541.3 1993.2,533.9 1993.8,552.3 1994.5,575.7 1995.2,597.5 1996.0,604.5 1996.8,604.8 1997.5,604.1 1998.2,603.6 1999.0,603.5 1999.8,603.9 2000.5,604.9 2001.2,605.5 2002.0,605.7 2002.8,605.4 2003.5,605.1 2004.2,606.0 2005.0,607.0 2005.8,603.1 2006.5,591.3 2007.2,577.9 2007.7,568.6 2008.0,573.5 2008.8,586.4 2009.5,598.6 2010.2,605.2 2011.0,603.5 2011.8,601.7 2012.5,600.6 2013.2,593.7 2014.0,570.2 2014.8,544.4 2015.5,516.3 2015.8,505.0 2016.2,522.4 2017.0,549.8 2017.8,576.7 2018.5,600.3 2019.2,604.5 2020.0,603.6 2020.8,603.2 2021.5,603.0 2022.2,603.8 2023.0,599.2 2023.8,588.8 2024.5,576.9 2025.2,586.6 2026.0,595.3 2026.8,594.4 2027.5,571.6 2028.2,544.8 2029.0,515.9 2029.4,498.9 2029.8,513.3 2030.5,542.7 2031.2,571.4 2032.0,596.9 2032.8,604.0 2033.5,604.0 2034.2,603.8 2035.0,603.0 2035.8,602.3 2036.5,601.3 2037.2,601.7 2038.0,601.9 2038.8,602.2 2039.5,598.0 2040.2,582.9 2041.0,566.1 2041.2,562.3 2041.8,575.4 2042.5,591.3 2043.2,601.3 2044.0,601.4 2044.8,601.2 2045.5,600.4 2046.2,596.3 2047.0,581.8 2047.8,567.0 2048.4,553.1 2048.5,556.0 2049.2,572.6 2050.0,588.7 2050.8,602.8 2051.5,603.6 2052.2,603.0 2053.0,601.6 2053.8,600.4 2054.5,599.6 2055.2,599.4 2056.0,598.5 2056.8,598.2 2057.5,597.8 2058.2,598.6 2059.0,598.7 2059.8,598.9 2060.5,599.6 2061.2,600.1 2062.0,601.0 2062.8,600.7 2063.5,600.9 2064.2,600.2 2065.0,592.7 2065.8,583.9 2066.5,574.9 2066.6,573.3 2067.2,581.4 2068.0,590.9 2068.8,600.3 2069.5,603.3 2070.2,603.5 2071.0,604.0 2071.8,604.1 2072.5,604.2 2073.2,603.6 2074.0,604.4 2074.8,605.4 2075.5,606.6 2076.2,606.2 2077.0,606.0 2077.8,604.9 2078.5,604.3 2079.2,603.8 2080.0,604.2 2080.8,599.6 2081.5,591.9 2082.0,586.3 2082.2,588.3 2083.0,596.6 2083.8,603.4 2084.5,604.4 2085.2,595.9 2086.0,584.9 2086.5,577.3 2086.8,582.6 2087.5,594.5 2088.2,604.9 2089.0,605.2 2089.8,604.5 2090.5,603.8 2091.2,604.4 2092.0,605.2 2092.8,605.1 2093.5,605.4 2094.2,605.9 2095.0,607.4 2095.8,606.9 2096.5,604.8 2097.2,602.8 2098.0,602.4 2098.8,603.2 2099.5,603.5 2100.2,604.8 2101.0,605.6 2101.8,606.8 2102.5,606.5 2103.2,604.8 2104.0,602.2 2104.8,599.0 2105.5,595.4 2106.2,597.8 2107.0,600.8 2107.8,603.0 2108.5,604.2 2109.2,603.4 2110.0,603.2 2110.8,604.3 2111.5,605.8 2112.2,606.9 2113.0,606.4 2113.8,605.8 2114.5,604.8 2115.2,604.0 2116.0,602.2 2116.8,601.2 2117.5,600.3 2118.2,601.0 2119.0,602.2 2119.8,603.8 2120.5,605.2 2121.2,606.1 2122.0,606.8 2122.8,606.4 2123.5,606.5 2124.2,606.7 2125.0,607.4 2125.8,606.7 2126.5,605.6 2127.2,605.1 2128.0,605.5 2128.8,606.2 2129.5,605.7 2130.2,605.0 2131.0,604.3 2131.8,604.5 2132.5,604.8 2133.2,604.7 2134.0,604.5 2134.8,603.6 2135.5,602.8 2136.2,602.2 2137.0,602.9 2137.8,604.2 2138.5,605.5 2139.2,606.0 2140.0,605.8 2140.8,605.5 2141.5,605.9 2142.2,606.7 2143.0,606.6 2143.8,606.1 2144.5,605.9 2145.2,606.4 2146.0,606.6 2146.8,606.1 2147.5,605.6 2148.2,605.8 2149.0,605.4 2149.8,602.7 2150.5,598.0 2151.2,593.7 2151.7,590.6 2152.0,592.3 2152.8,596.0 2153.5,598.7 2154.2,601.4 2155.0,602.4 2155.8,603.9 2156.5,605.1 2157.2,606.1 2158.0,605.5 2158.8,605.9 2159.5,605.6 2160.2,606.3 2161.0,605.5 2161.8,605.3 2162.5,604.9 2163.2,604.5 2164.0,604.2 2164.8,604.1 2165.5,605.2 2166.2,605.2 2167.0,604.8 2167.8,604.5 2168.5,604.7 2169.2,604.5 2170.0,603.5 2170.8,603.0 2171.5,603.2 2172.2,603.7 2173.0,604.5 2173.8,605.3 2174.5,606.6 2175.2,593.0 2176.0,567.3 2176.8,537.6 2177.1,522.0 2177.5,536.6 2178.2,565.8 2179.0,592.2 2179.8,591.6 2180.5,570.3 2181.0,555.7 2181.2,562.6 2182.0,585.0 2182.8,604.2 2183.5,584.2 2184.2,551.8 2185.0,515.8 2185.2,505.4 2185.8,531.3 2186.5,565.8 2187.2,595.9 2188.0,601.0 2188.8,588.7 2189.5,576.5 2190.0,568.4 2190.2,572.8 2191.0,584.3 2191.8,595.5 2192.5,603.9 2193.2,605.4 2194.0,606.2 2194.8,606.6 2195.5,606.5 2196.2,606.6 2197.0,607.4 2197.8,607.4 2198.5,607.6 2199.2,605.7 2200.0,604.5 2200.8,603.0 2201.5,603.3 2202.2,603.5 2203.0,603.7 2203.8,603.8 2204.5,602.9 2205.2,602.4 2206.0,597.7 2206.8,563.9 2207.5,524.7 2208.2,481.3 2209.0,434.6 2209.1,427.3 2209.8,467.5 2210.5,513.2 2211.2,555.4 2212.0,592.5 2212.8,604.2 2213.5,599.3 2214.2,588.1 2215.0,576.0 2215.8,587.5 2216.5,597.9 2217.2,602.9 2218.0,602.1 2218.8,601.0 2219.5,599.0 2220.2,598.6 2221.0,599.5 2221.8,601.1 2222.5,601.8 2223.2,601.5 2224.0,601.0 2224.8,600.8 2225.5,599.7 2226.2,584.8 2227.0,567.2 2227.8,547.7 2227.8,545.8 2228.5,563.0 2229.2,581.2 2230.0,597.6 2230.8,600.9 2231.5,601.5 2232.2,601.9 2233.0,602.6 2233.8,603.0 2234.5,581.1 2235.2,544.3 2236.0,504.0 2236.8,462.6 2236.8,459.9 2237.5,499.5 2238.2,538.4 2239.0,574.6 2239.8,600.9 2240.5,603.3 2241.2,604.7 2242.0,605.4 2242.8,605.1 2243.5,596.8 2244.2,574.3 2245.0,548.9 2245.5,529.2 2245.8,536.7 2246.5,560.3 2247.2,583.4 2248.0,598.5 2248.8,599.0 2249.5,599.4 2250.2,600.6 2251.0,601.7 2251.8,601.1 2252.5,599.6 2253.2,597.1 2254.0,596.3 2254.8,595.8 2255.5,597.0 2256.2,598.4 2257.0,599.7 2257.8,599.6 2258.5,599.1 2259.2,598.4 2260.0,598.4 2260.8,598.9 2261.5,599.9 2262.2,599.9 2263.0,591.9 2263.8,572.2 2264.5,550.0 2265.0,535.0 2265.2,542.4 2266.0,564.5 2266.8,583.6 2267.5,596.7 2268.2,584.1 2269.0,554.5 2269.8,520.8 2270.5,484.1 2270.7,473.4 2271.2,501.0 2272.0,536.8 2272.8,569.7 2273.5,596.9 2274.2,597.6 2275.0,598.5 2275.8,599.7 2276.5,600.1 2277.2,599.3 2278.0,599.1 2278.8,599.5 2279.5,599.8 2280.2,599.1 2281.0,598.5 2281.8,599.7 2282.5,601.3 2283.2,602.5 2284.0,601.3 2284.8,600.3 2285.5,599.4 2286.2,600.0 2287.0,600.0 2287.8,599.4 2288.5,598.7 2289.2,587.8 2290.0,564.2 2290.8,537.6 2291.2,520.2 2291.5,531.7 2292.2,558.9 2293.0,584.1 2293.8,598.4 2294.5,597.8 2295.2,598.6 2296.0,600.5 2296.8,601.5 2297.5,598.8 2298.2,595.1 2298.4,593.3 2299.0,594.5 2299.8,596.2 2300.5,597.2 2301.2,597.3 2302.0,597.5 2302.8,599.1 2303.5,600.9 2304.2,602.6 2305.0,602.1 2305.8,600.7 2306.5,598.6 2307.2,591.4 2308.0,582.9 2308.4,578.9 2308.8,583.2 2309.5,592.6 2310.2,600.3 2311.0,600.6 2311.8,599.4 2312.5,596.1 2313.2,585.1 2314.0,573.9 2314.7,562.7 2314.8,564.6 2315.5,577.6 2316.2,589.8 2317.0,600.0 2317.8,601.0 2318.5,600.8 2319.2,600.5 2320.0,600.6 2320.8,601.1 2321.5,600.6 2322.2,599.5 2323.0,598.9 2323.8,599.6 2324.5,600.7 2325.2,600.3 2326.0,599.6 2326.8,598.9 2327.5,599.6 2328.2,599.9 2329.0,599.7 2329.8,599.8 2330.5,600.2 2331.2,601.1 2332.0,600.5 2332.8,599.4 2333.5,595.9 2334.2,592.8 2335.0,589.1 2335.8,592.8 2336.5,595.5 2337.2,597.7 2338.0,597.4 2338.8,597.8 2339.5,598.8 2340.2,598.5 2341.0,593.4 2341.8,587.4 2342.5,581.9 2343.0,579.5 2343.2,582.2 2344.0,587.9 2344.8,591.7 2345.5,595.2 2346.2,596.6 2347.0,597.7 2347.8,599.1 2348.5,598.8 2349.2,597.5 2350.0,596.0 2350.8,595.9 2351.5,595.5 2352.2,594.4 2353.0,578.4 2353.8,561.2 2354.5,541.3 2355.2,521.1 2355.5,513.5 2356.0,527.5 2356.8,547.4 2357.5,565.9 2358.2,583.7 2359.0,595.3 2359.8,596.5 2360.5,596.0 2361.2,595.2 2362.0,594.1 2362.8,594.3 2363.5,593.5 2364.2,592.9 2365.0,591.8 2365.8,580.3 2366.5,562.4 2367.2,543.1 2368.0,522.7 2368.8,544.5 2369.5,564.0 2370.2,579.7 2371.0,589.3 2371.8,587.8 2372.5,588.7 2373.2,588.9 2374.0,590.1 2374.8,590.1 2375.5,587.7 2376.2,578.3 2377.0,568.3 2377.8,558.1 2378.0,555.2 2378.5,563.1 2379.2,573.3 2380.0,582.7 2380.8,590.6 2381.5,590.3 2382.2,589.7 2383.0,588.8 2383.8,589.0 2384.5,588.0 2385.2,588.4 2386.0,588.5 2386.8,589.9 2387.5,590.2 2388.2,590.4 2389.0,591.0 2389.8,591.8 2390.5,592.9 2391.2,593.0 2392.0,592.6 2392.8,592.3 2393.5,592.7 2394.2,593.9 2395.0,594.9 2395.8,595.8 2396.5,597.0 2397.2,598.6 2398.0,599.9 2398.8,600.1 2399.5,600.3 2400.2,600.3 2401.0,600.5 2401.8,599.5 2402.5,598.4 2403.2,597.9 2404.0,596.9 2404.8,596.8 2405.5,596.4 2406.2,596.8 2407.0,596.4 2407.8,595.6 2408.5,594.8 2409.2,594.2 2410.0,593.6 2410.8,592.6 2411.5,591.1 2412.2,590.0 2413.0,589.9 2413.8,591.2 2414.5,592.4 2415.2,593.3 2416.0,593.1 2416.8,593.3 2417.5,592.9 2418.2,593.4 2419.0,592.7 2419.8,592.7 2420.5,592.8 2421.2,593.8 2422.0,594.4 2422.8,593.8 2423.5,592.8 2424.2,593.0 2425.0,593.4 2425.8,594.3 2426.5,593.4 2427.2,592.9 2428.0,559.6 2428.8,520.5 2429.5,478.7 2430.1,443.3 2430.2,452.3 2431.0,496.1 2431.8,537.5 2432.5,576.2 2433.2,594.6 2434.0,595.0 2434.8,593.8 2435.5,593.4 2436.2,591.9 2437.0,591.4 2437.8,591.3 2438.5,592.2 2439.2,593.2 2440.0,593.1 2440.8,592.6 2441.5,592.2 2442.2,593.1 2443.0,594.3 2443.8,595.2 2444.5,595.1 2445.2,594.5 2446.0,590.5 2446.8,586.5 2447.0,584.3 2447.5,586.3 2448.2,589.2 2449.0,592.1 2449.8,592.7 2450.5,592.6 2451.2,592.3 2452.0,591.8 2452.8,550.2 2453.5,499.8 2454.2,443.6 2455.0,384.2 2455.4,351.0 2455.8,380.0 2456.5,439.1 2457.2,495.7 2458.0,546.7 2458.8,553.2 2459.5,513.3 2460.2,473.4 2460.2,475.5 2461.0,516.6 2461.8,555.4 2462.5,589.1 2463.2,591.6 2464.0,593.0 2464.8,592.6 2465.5,591.6 2466.2,588.8 2467.0,587.1 2467.8,586.7 2468.5,587.9 2469.2,588.3 2470.0,588.9 2470.8,589.3 2471.5,590.1 2472.2,590.1 2473.0,589.7 2473.8,588.8 2474.5,588.1 2475.2,586.7 2476.0,585.8 2476.8,585.0 2477.5,585.7 2478.2,586.5 2479.0,588.8 2479.8,589.9 2480.5,591.0 2481.2,590.2 2482.0,564.5 2482.8,518.3 2483.5,468.5 2484.2,415.2 2484.9,366.6 2485.0,373.5 2485.8,427.8 2486.5,480.7 2487.2,530.4 2488.0,575.0 2488.8,589.7 2489.5,589.9 2490.2,590.1 2491.0,589.5 2491.8,587.8 2492.5,556.2 2493.2,519.6 2494.0,480.0 2494.1,474.7 2494.8,509.5 2495.5,548.4 2496.2,583.6 2497.0,592.5 2497.8,592.6 2498.5,591.2 2499.2,590.9 2500.0,553.6 2500.8,506.9 2501.5,455.4 2502.2,401.7 2502.7,368.3 2503.0,390.0 2503.8,443.0 2504.5,493.0 2505.2,541.3 2506.0,583.5 2506.8,589.9 2507.5,590.1 2508.2,590.1 2509.0,589.2 2509.8,588.9 2510.5,589.1 2511.2,589.3 2512.0,589.4 2512.8,583.1 2513.5,556.6 2514.2,526.2 2514.9,498.5 2515.0,502.7 2515.8,533.6 2516.5,562.0 2517.2,585.3 2518.0,586.7 2518.8,588.6 2519.5,559.9 2520.2,515.7 2521.0,466.8 2521.8,415.3 2522.1,390.0 2522.5,418.1 2523.2,469.7 2524.0,519.0 2524.8,562.7 2525.5,589.3 2526.2,588.2 2527.0,588.2 2527.8,588.3 2528.5,588.6 2529.2,588.6 2530.0,588.4 2530.8,588.4 2531.5,589.3 2532.2,590.2 2533.0,591.2 2533.8,591.2 2534.5,590.3 2535.2,583.0 2535.8,575.2 2536.0,569.3 2536.8,543.1 2537.5,514.0 2537.6,509.7 2538.2,534.6 2539.0,562.0 2539.8,584.7 2540.5,589.1 2541.2,587.9 2542.0,584.2 2542.8,573.7 2543.5,562.3 2544.0,553.7 2544.2,558.4 2545.0,571.6 2545.8,583.2 2546.5,590.9 2547.2,590.4 2548.0,590.9 2548.8,591.2 2549.5,592.0 2550.2,592.2 2551.0,592.6 2551.8,592.7 2552.5,592.7 2553.2,592.3 2554.0,591.9 2554.8,592.0 2555.5,592.4 2556.2,592.7 2557.0,592.0 2557.8,591.5 2558.5,590.7 2559.2,589.9 2560.0,588.6 2560.8,587.2 2561.5,577.2 2562.2,565.8 2563.0,552.0 2563.8,564.1 2564.5,575.2 2565.2,585.6 2566.0,588.1 2566.8,589.7 2567.5,576.7 2568.2,554.6 2569.0,529.5 2569.3,519.3 2569.8,534.1 2570.5,557.9 2571.2,580.0 2572.0,590.1 2572.8,591.9 2573.5,591.7 2574.2,591.3 2575.0,589.0 2575.8,587.7 2576.5,586.6 2577.2,585.9 2578.0,585.9 2578.8,586.4 2579.5,588.4 2580.2,589.9 2581.0,591.1 2581.8,591.4 2582.5,591.4 2583.2,591.7 2584.0,592.0 2584.8,591.8 2585.5,590.8 2586.2,589.9 2587.0,589.9 2587.8,591.1 2588.5,592.0 2589.2,593.0 2590.0,593.2 2590.8,593.2 2591.5,593.3 2592.2,592.6 2593.0,591.6 2593.8,590.1 2594.5,584.8 2595.2,573.6 2596.0,561.1 2596.4,552.8 2596.8,559.6 2597.5,573.5 2598.2,585.8 2599.0,591.5 2599.8,590.9 2600.5,591.4 2601.2,592.1 2602.0,592.4 2602.8,591.3 2603.5,590.2 2604.2,589.3 2605.0,589.1 2605.8,588.3 2606.5,587.0 2607.2,585.6 2608.0,584.8 2608.8,585.1 2609.5,585.4 2610.2,585.9 2611.0,585.7 2611.8,585.5 2612.5,586.1 2613.2,586.9 2614.0,587.7 2614.8,586.7 2615.5,584.3 2616.2,582.7 2617.0,581.5 2617.8,581.0 2618.5,579.0 2619.2,576.9 2620.0,574.4 2620.4,574.4 2620.8,575.7 2621.5,577.5 2622.2,579.3 2623.0,582.1 2623.8,585.4 2624.5,586.9 2625.2,586.4 2626.0,585.7 2626.8,584.9 2627.5,585.4 2628.2,586.3 2629.0,588.3 2629.8,588.9 2630.5,589.1 2631.2,588.0 2632.0,587.2 2632.8,586.9 2633.5,587.9 2634.2,589.6 2635.0,591.7 2635.8,593.0 2636.5,593.0 2637.2,592.4 2638.0,591.1 2638.8,590.7 2639.5,590.1 2640.2,590.7 2641.0,591.1 2641.8,591.5 2642.5,590.9 2643.2,590.1 2644.0,589.3 2644.8,588.9 2645.5,589.1 2646.2,589.8 2647.0,590.8 2647.8,590.3 2648.5,589.2 2649.2,587.3 2650.0,587.6 2650.8,588.1 2651.5,588.6 2652.2,587.8 2653.0,587.1 2653.8,586.2 2654.5,585.6 2655.2,585.5 2656.0,583.5 2656.8,581.0 2657.5,577.2 2658.2,573.5 2659.0,568.8 2659.8,572.5 2660.5,575.2 2661.2,578.7 2662.0,581.9 2662.8,585.3 2663.5,585.8 2664.2,586.4 2665.0,586.0 2665.8,585.7 2666.5,584.3 2667.2,584.4 2668.0,585.1 2668.8,586.1 2669.5,585.2 2670.2,584.2 2671.0,584.3 2671.8,585.6 2672.5,586.9 2673.2,588.1 2674.0,588.8 2674.8,589.0 2675.5,587.5 2676.2,586.0 2677.0,585.1 2677.8,584.9 2678.5,584.1 2679.2,583.0 2680.0,582.1 2680.8,582.2 2681.5,582.7 2682.2,582.6 2683.0,581.6 2683.8,579.3 2684.5,576.5 2685.2,575.0 2686.0,575.2 2686.8,576.6 2687.5,578.0 2688.2,579.2 2689.0,580.2 2689.8,580.5 2690.5,581.3 2691.2,581.0 2692.0,580.2 2692.8,578.0 2693.5,576.5 2694.2,576.6 2695.0,577.1 2695.8,576.8 2696.5,575.2 2697.2,573.3 2698.0,571.9 2698.8,571.3 2699.5,571.3" stroke="#008000" stroke-width="1.1"/>
<polyline points="375.0,573.0 377.5,573.5 379.0,632.3 380.8,757.4 382.3,655.1 384.2,607.0 385.6,658.6 387.2,768.1 389.0,643.3 390.9,584.5 394.5,579.0 396.8,651.5 400.8,505.0 402.5,498.0 406.2,446.0 407.8,556.7 409.0,608.8 412.6,648.1 416.2,561.5 418.5,626.4 422.5,573.5 425.8,457.7 429.8,492.5 432.2,573.2 434.7,634.5 437.2,572.3 439.7,493.1 442.5,603.7 444.8,546.0 447.0,474.0 449.7,551.5 452.5,550.5 453.6,551.5 455.5,490.3 457.3,495.5 459.1,496.7 461.5,578.4 463.7,530.2 466.1,574.3 467.5,668.0 469.2,549.1 471.7,511.3 474.2,493.1 476.0,536.3 478.3,468.6 482.0,497.9 485.0,607.3 487.8,494.0 489.6,574.7 491.7,531.1 494.5,565.6 497.4,611.0 499.5,529.6 503.2,456.8 505.0,581.7 507.1,598.6 509.1,604.6 512.6,494.0 515.8,620.9 518.2,559.6 520.7,632.7 524.0,567.8 525.8,583.5 527.2,568.7 529.8,606.4 533.0,544.7 534.6,548.5 536.3,536.5 539.4,654.4 541.5,607.3 543.6,534.7 545.7,484.9 548.4,620.6 550.5,648.3 552.5,687.5 553.7,605.5 557.5,566.9 560.2,622.7 562.4,574.1 565.4,608.1 566.5,680.5 568.1,569.0 571.1,516.6 573.8,632.7 575.6,531.1 578.3,590.1 580.6,536.2 582.9,470.4 586.5,654.4 590.1,616.1 593.7,505.7 595.7,552.1 597.7,578.8 599.7,627.3 603.7,537.4 606.4,604.6 608.5,570.8 610.7,564.1 612.8,535.6 615.0,588.5 617.3,627.3 621.0,562.5 623.4,597.1 624.5,670.7 627.2,601.6 631.2,491.2 633.9,558.2 636.0,700.5 637.3,610.9 639.9,568.7 642.0,607.9 644.1,630.0 646.5,623.5 649.0,606.1 651.7,566.6 654.4,548.5 656.2,426.0 658.5,583.2 661.7,657.2 663.6,616.5 665.6,552.1 667.5,507.6 670.2,608.2 673.4,596.2 675.3,537.4 676.8,550.5 678.3,546.5 682.1,588.3 685.4,527.0 687.4,495.8 690.5,570.0 692.6,602.5 694.8,617.3 697.0,568.7 699.3,506.6 701.9,627.3 705.1,550.1 708.2,630.9 710.5,603.6 712.8,555.6 715.7,611.0 718.3,574.4 720.9,527.5 723.8,606.4 727.4,540.2 731.4,580.8 733.8,613.9 736.3,632.7 738.6,585.2 741.0,553.7 745.0,560.2 747.2,532.0 749.7,565.9 752.2,619.1 754.5,569.3 756.8,538.3 758.6,549.5 760.9,526.6 763.1,608.2 765.5,555.6 768.0,598.8 770.4,627.3 773.1,601.3 775.4,619.1 777.2,551.9 780.3,597.4 782.5,538.3 784.8,590.1 787.0,630.9 790.3,564.1 791.8,568.5 793.5,561.0 796.1,605.5 798.4,579.5 800.8,608.2 803.9,570.5 806.2,632.7 809.3,484.9 812.9,579.3 815.3,503.0 818.4,653.5 820.6,596.6 822.9,524.8 826.5,545.0 829.8,629.1 833.2,542.0 835.8,600.8 838.3,639.0 841.0,552.8 844.1,571.1 846.8,539.3 849.2,591.0 851.9,561.0 855.1,610.1 857.3,574.1 860.6,656.3 863.0,632.2 865.5,587.7 867.3,618.2 869.6,571.5 872.0,600.0 876.0,650.8 878.7,509.7 882.3,484.9 884.8,544.3 887.2,585.3 890.6,612.9 891.7,671.7 893.1,579.8 895.1,567.2 897.2,536.5 899.0,618.2 902.1,556.5 904.9,614.8 907.7,651.7 909.9,614.8 912.2,594.7 914.4,557.4 916.5,575.0 918.6,602.8 922.5,530.2 926.2,601.0 928.0,595.5 930.1,632.7 932.7,594.3 935.2,569.0 938.8,556.3 942.1,532.9 945.2,577.6 946.6,672.6 947.8,596.0 949.6,560.0 951.0,430.0 953.0,280.0 954.1,141.0 955.2,280.0 957.3,430.0 958.8,560.0 961.5,625.5 963.8,556.5 966.0,587.8 968.2,630.9 970.8,602.4 973.3,556.5 976.9,618.2 978.3,594.0 980.5,663.5 981.6,599.0 985.0,568.7 988.1,622.7 990.7,608.2 993.2,572.3 995.4,602.8 998.3,547.4 1000.8,554.1 1003.2,576.2 1005.9,657.2 1008.6,620.3 1011.3,568.7 1013.5,602.8 1015.8,539.6 1017.9,530.1 1020.0,509.4 1022.2,528.5 1025.3,515.7 1027.3,547.7 1029.4,569.0 1031.2,601.0 1034.0,584.1 1035.8,600.1 1037.5,598.5 1039.5,607.4 1041.6,638.1 1044.8,573.5 1047.5,548.3 1049.0,550.5 1050.6,549.2 1052.4,612.8 1054.7,549.8 1057.0,474.9 1058.5,480.5 1059.9,480.4 1062.0,591.0 1064.3,571.5 1066.6,593.8 1069.3,522.0 1071.5,588.5 1073.8,550.1 1075.6,597.4 1077.8,555.6 1081.6,656.3 1084.3,551.9 1086.8,606.4 1089.6,533.8 1091.9,567.5 1094.1,559.2 1096.7,609.6 1099.2,642.7 1101.9,510.3 1104.6,551.2 1106.4,522.9 1108.7,546.5 1110.9,580.2 1113.3,524.8 1115.8,582.9 1117.8,549.2 1119.6,623.6 1122.5,607.5 1125.4,632.7 1128.7,523.9 1130.7,571.0 1132.7,543.8 1134.1,612.8 1136.3,546.5 1138.0,572.9 1139.9,546.5 1142.0,570.9 1144.1,527.5 1145.7,567.1 1147.2,534.7 1149.0,583.8 1150.8,543.8 1153.2,576.9 1155.7,626.4 1158.0,564.3 1160.2,484.9 1162.2,504.6 1164.2,553.5 1166.2,574.7 1168.9,501.2 1171.5,539.6 1174.0,595.6 1176.2,554.5 1177.8,577.7 1179.4,446.9 1181.2,570.8 1182.5,629.1 1185.0,593.0 1187.6,531.8 1190.1,494.9 1192.8,539.9 1196.4,486.7 1200.3,548.9 1202.1,513.0 1204.3,519.0 1206.6,543.5 1210.0,478.6 1213.3,554.8 1215.5,550.5 1218.2,581.1 1220.9,478.6 1223.8,572.9 1227.8,512.4 1230.0,491.6 1232.3,455.0 1235.4,558.4 1237.5,543.0 1239.6,516.6 1241.4,550.8 1243.2,520.2 1246.8,611.9 1250.1,531.1 1252.2,549.4 1254.4,502.1 1256.5,558.1 1258.6,530.2 1262.2,582.0 1265.8,522.0 1268.1,549.5 1270.4,526.6 1272.8,570.2 1274.9,509.4 1277.2,548.0 1279.4,506.6 1281.8,580.2 1284.5,527.5 1286.7,561.1 1290.3,499.4 1293.0,546.2 1295.4,510.3 1299.3,572.0 1301.6,545.0 1303.9,563.9 1307.5,512.1 1310.2,577.4 1311.8,548.5 1313.5,583.8 1316.6,542.0 1318.4,573.8 1320.4,544.7 1322.3,567.8 1324.3,504.8 1326.3,573.6 1328.3,550.1 1330.1,608.2 1332.5,555.2 1335.0,521.1 1337.1,549.9 1339.2,521.1 1341.2,539.5 1343.2,524.8 1345.5,556.6 1347.9,524.8 1350.3,554.5 1352.8,532.9 1354.6,554.8 1356.8,535.6 1359.5,606.4 1362.2,581.2 1364.9,540.2 1367.0,567.5 1369.1,611.0 1371.1,575.8 1373.1,570.1 1375.1,537.4 1377.2,563.9 1379.4,531.1 1381.8,560.2 1385.0,523.9 1387.2,549.4 1389.0,533.8 1391.7,551.2 1393.6,525.7 1397.5,563.9 1399.4,530.5 1401.3,525.9 1403.2,491.2 1405.5,520.8 1407.7,528.7 1410.8,543.0 1412.9,592.5 1416.6,624.6 1418.9,547.4 1422.5,573.5 1425.3,599.2 1428.5,546.5 1432.5,563.5 1436.1,594.7 1438.8,495.8 1440.9,521.1 1443.0,564.8 1447.0,496.7 1449.5,551.5 1451.9,590.1 1454.2,519.3 1456.5,542.9 1458.8,580.8 1461.0,586.8 1463.3,600.1 1465.5,547.3 1467.8,476.8 1470.2,575.6 1472.4,523.9 1475.1,565.7 1478.7,499.4 1481.2,511.6 1483.8,543.5 1486.3,482.2 1488.8,546.5 1491.0,534.7 1494.6,576.5 1496.8,551.9 1499.0,508.5 1500.8,544.8 1504.1,491.2 1506.8,571.1 1508.8,543.1 1510.9,527.5 1514.9,552.1 1517.1,495.8 1518.8,580.0 1520.4,557.5 1523.1,598.3 1525.8,563.2 1527.9,601.0 1530.0,624.6 1532.6,563.3 1535.2,523.9 1537.3,533.6 1539.4,539.6 1542.1,545.0 1543.6,604.6 1546.6,551.0 1549.3,572.9 1552.1,509.4 1554.8,574.7 1557.1,538.3 1560.8,571.1 1563.8,525.7 1567.5,566.6 1571.1,511.2 1573.2,536.1 1575.3,579.3 1577.5,573.3 1579.8,555.2 1582.0,549.2 1584.7,566.6 1587.4,513.0 1590.1,573.5 1594.1,598.3 1596.4,559.5 1598.2,580.0 1600.1,542.0 1603.7,601.0 1606.4,518.7 1610.4,474.9 1612.8,554.8 1615.5,545.0 1617.3,576.5 1619.6,512.1 1622.7,538.1 1625.4,473.1 1628.2,566.6 1631.8,493.1 1635.4,523.3 1638.1,565.7 1639.8,561.5 1641.4,568.4 1642.6,556.5 1644.5,563.5 1648.4,474.0 1651.0,507.5 1653.5,519.6 1655.3,546.7 1657.1,524.8 1659.9,581.1 1662.0,522.0 1663.5,530.5 1665.3,520.2 1667.6,580.2 1669.8,541.1 1672.5,566.6 1676.5,494.0 1679.4,539.9 1682.1,510.2 1684.7,469.5 1688.5,512.4 1690.7,545.0 1693.0,569.3 1694.9,527.9 1696.9,505.3 1698.8,464.1 1701.0,498.5 1703.0,485.8 1705.0,493.5 1707.5,446.9 1709.0,549.9 1710.0,598.3 1712.8,503.0 1715.3,539.6 1717.8,591.9 1720.0,557.8 1722.4,590.1 1725.1,508.5 1726.7,548.0 1728.3,506.6 1730.9,548.0 1734.1,517.5 1736.3,550.7 1738.7,527.5 1740.5,548.0 1743.7,478.6 1746.2,498.5 1748.6,483.1 1750.9,498.5 1753.2,529.6 1754.4,562.9 1756.5,556.9 1758.6,532.9 1760.4,549.5 1762.2,521.1 1764.3,559.2 1766.4,522.0 1767.8,556.9 1769.1,525.7 1771.8,535.0 1775.8,591.9 1778.5,529.3 1782.1,534.4 1784.5,504.8 1786.4,510.8 1788.4,537.3 1790.3,545.0 1792.6,577.4 1794.8,480.4 1797.5,558.5 1799.3,554.7 1804.4,563.9 1808.4,479.5 1812.4,539.6 1813.8,594.7 1816.6,511.2 1819.3,558.4 1822.0,532.0 1824.2,538.0 1826.5,549.5 1828.3,581.1 1830.8,550.9 1833.3,535.8 1834.7,439.6 1836.1,534.6 1837.4,579.3 1839.7,527.5 1841.9,567.1 1844.1,595.6 1846.3,558.4 1848.6,505.7 1850.9,543.6 1853.2,600.1 1856.0,539.3 1860.0,584.7 1863.7,523.5 1865.6,393.5 1867.5,521.1 1868.2,581.1 1871.4,545.6 1873.3,608.2 1876.3,540.2 1878.7,590.1 1880.9,547.4 1883.6,607.3 1885.3,546.7 1887.2,417.9 1889.5,548.0 1891.7,515.7 1895.0,571.1 1897.2,516.6 1900.8,554.2 1904.4,511.2 1906.7,559.3 1909.0,538.3 1911.3,562.9 1913.5,546.5 1916.6,601.9 1919.1,539.7 1921.6,499.4 1923.9,525.7 1926.3,563.9 1928.4,517.6 1929.8,419.1 1931.0,497.3 1934.3,534.1 1937.4,560.2 1939.5,538.3 1941.6,496.8 1943.6,362.1 1945.1,461.2 1948.8,507.9 1951.2,560.2 1953.7,531.1 1956.6,614.6 1957.3,547.2 1959.4,404.0 1961.5,546.6 1962.0,613.7 1964.3,540.2 1966.6,484.0 1968.7,563.5 1971.2,597.5 1973.6,613.7 1976.3,544.4 1978.5,397.0 1981.4,441.1 1983.1,274.8 1986.2,496.0 1987.0,600.1 1989.2,576.0 1991.3,539.9 1993.2,412.1 1994.4,474.7 1997.7,504.2 1999.5,633.6 2002.2,550.2 2005.0,572.9 2008.0,484.9 2010.5,501.7 2013.1,528.7 2014.6,564.8 2016.7,513.0 2019.5,537.0 2022.2,577.4 2024.0,534.1 2026.4,508.7 2028.8,498.4 2029.9,422.6 2031.5,531.6 2033.9,547.3 2036.3,582.9 2039.7,519.3 2042.0,554.5 2044.3,600.1 2046.3,553.4 2048.4,520.2 2050.2,555.9 2052.1,509.4 2054.8,576.5 2057.5,523.9 2060.2,644.5 2062.6,595.3 2065.1,572.3 2067.5,525.7 2070.2,577.4 2072.9,512.1 2075.6,577.4 2078.3,522.0 2081.0,563.9 2083.4,512.1 2085.4,548.0 2087.4,492.2 2089.8,535.4 2092.2,553.3 2094.6,591.9 2096.4,548.3 2098.7,556.0 2101.0,562.0 2102.8,550.1 2105.5,588.9 2109.5,606.4 2111.8,575.9 2115.5,598.3 2118.5,559.6 2120.5,625.5 2124.0,556.9 2126.3,587.0 2128.6,586.9 2130.9,617.3 2133.6,506.6 2136.3,569.0 2139.0,544.7 2141.4,592.8 2143.6,547.4 2147.2,560.2 2150.4,506.6 2154.4,582.0 2156.8,536.5 2158.9,594.7 2160.8,559.6 2163.5,592.8 2167.5,535.0 2169.6,519.9 2171.6,513.9 2174.3,558.5 2177.1,623.6 2179.8,507.9 2182.1,478.7 2184.3,466.8 2185.6,379.5 2187.7,524.5 2191.2,592.8 2193.4,508.8 2196.4,503.9 2198.4,524.7 2200.5,557.5 2202.6,543.1 2204.6,511.2 2207.9,605.5 2210.1,572.1 2212.2,555.3 2213.8,448.7 2215.2,544.9 2217.8,590.1 2220.5,491.2 2222.6,502.8 2224.7,508.8 2226.9,502.8 2229.1,494.0 2231.4,570.2 2234.1,516.6 2236.2,573.8 2238.7,484.0 2240.9,527.7 2243.2,591.9 2245.4,563.2 2247.7,590.1 2249.5,549.2 2251.9,639.9 2254.4,453.2 2256.5,516.1 2258.6,591.9 2261.3,517.5 2264.0,599.2 2266.7,551.0 2269.5,572.9 2272.2,496.7 2275.6,551.7 2279.0,516.6 2282.1,585.6 2284.2,532.8 2286.3,469.5 2288.5,543.5 2290.7,633.6 2292.9,588.4 2295.0,572.7 2297.2,526.6 2299.6,552.4 2302.1,527.5 2305.7,572.9 2309.3,551.0 2311.1,565.7 2314.4,502.1 2316.9,563.3 2319.3,532.0 2321.6,578.0 2323.8,610.1 2326.5,569.6 2328.3,585.6 2331.0,571.4 2333.4,586.5 2335.6,565.9 2337.9,639.9 2339.8,609.7 2341.8,605.5 2343.7,576.8 2346.3,616.0 2348.6,637.2 2350.4,528.7 2353.9,498.5 2355.1,434.2 2357.1,548.0 2359.1,475.8 2360.6,598.3 2362.8,577.7 2365.0,541.0 2366.8,419.2 2368.6,542.2 2371.3,562.0 2374.0,600.1 2375.4,550.8 2376.9,446.0 2378.1,497.3 2380.9,521.4 2383.0,630.0 2386.3,519.6 2389.0,515.7 2392.6,533.2 2393.6,583.5 2397.2,606.4 2399.6,589.1 2402.0,540.4 2404.4,522.9 2408.0,570.2 2410.6,524.3 2413.1,498.5 2415.5,553.5 2418.0,496.7 2418.8,560.3 2420.8,695.6 2424.6,439.3 2421.9,575.0 2425.7,318.7 2427.9,500.8 2428.5,586.5 2431.6,463.2 2434.1,548.2 2436.7,648.1 2438.5,514.8 2440.0,576.3 2441.5,548.3 2444.3,586.5 2446.6,557.4 2448.8,513.0 2451.2,566.6 2453.3,499.4 2454.9,548.0 2456.6,433.3 2459.0,639.4 2457.2,530.3 2459.6,736.4 2461.9,577.1 2463.8,502.1 2465.6,559.1 2467.4,680.2 2468.9,575.1 2470.5,525.7 2474.2,582.0 2475.1,537.0 2476.5,441.4 2478.0,545.6 2480.5,594.7 2482.8,553.0 2485.0,529.3 2488.0,558.5 2491.0,546.5 2492.6,608.4 2494.5,740.0 2497.2,559.7 2498.6,474.9 2501.9,601.0 2503.7,507.6 2505.7,548.0 2507.7,509.4 2509.8,524.5 2511.8,530.5 2514.0,599.2 2516.3,587.6 2518.7,546.2 2521.0,535.2 2523.0,399.3 2525.0,532.8 2527.0,553.6 2529.1,595.6 2532.1,551.0 2534.0,563.5 2536.3,521.1 2538.3,581.1 2540.3,521.1 2543.0,548.0 2545.7,452.3 2548.5,590.0 2552.1,619.1 2554.3,586.7 2556.5,532.2 2558.7,504.2 2561.7,480.4 2564.6,525.1 2568.4,600.1 2571.1,544.7 2573.8,605.5 2577.4,536.5 2579.5,568.5 2581.6,544.7 2583.8,595.6 2586.5,545.6 2589.2,632.7 2593.2,551.0 2595.9,612.8 2598.2,585.9 2600.5,535.6 2602.8,513.0 2605.0,575.0 2607.0,557.8 2610.3,596.9 2613.5,580.0 2615.6,574.0 2617.7,551.1 2620.0,563.5 2623.8,542.7 2626.4,601.9 2629.5,566.2 2633.0,579.5 2635.0,577.5 2637.4,583.5 2639.9,590.2 2642.9,529.2 2645.2,553.1 2647.4,596.5 2649.7,618.8 2652.4,559.5 2654.7,583.4 2656.9,548.2 2659.1,498.9 2661.6,530.7 2664.1,576.7 2666.5,519.1 2668.2,553.1 2670.2,515.7 2672.7,553.1 2675.3,535.9 2677.7,580.6 2680.0,644.0 2683.7,554.6 2687.0,522.5 2689.3,560.2 2691.7,612.0 2694.4,546.0 2695.8,549.5 2697.1,541.0 2700.0,548.0" stroke="#000" stroke-width="4.8"/>
</g>
<rect x="375.5" y="108.5" width="2325" height="693" fill="none" stroke="#000" stroke-width="3.33"/>
<path d="M503.50 801.5 v14.6 M1014.50 801.5 v14.6 M1525.50 801.5 v14.6 M2036.50 801.5 v14.6 M2547.50 801.5 v14.6 M375.5 771.50 h-14.6 M375.5 648.50 h-14.6 M375.5 526.50 h-14.6 M375.5 403.50 h-14.6 M375.5 281.50 h-14.6 M375.5 159.50 h-14.6" stroke="#000" stroke-width="3.33" fill="none"/>
<g font-family="'DejaVu Sans','Liberation Sans',sans-serif" fill="#000">
<text x="502.75" y="852.3" font-size="29.17" letter-spacing="-0.55" text-anchor="middle">5000</text>
<text x="1013.74" y="852.3" font-size="29.17" letter-spacing="-0.55" text-anchor="middle">6000</text>
<text x="1524.73" y="852.3" font-size="29.17" letter-spacing="-0.55" text-anchor="middle">7000</text>
<text x="2035.71" y="852.3" font-size="29.17" letter-spacing="-0.55" text-anchor="middle">8000</text>
<text x="2546.70" y="852.3" font-size="29.17" letter-spacing="-0.55" text-anchor="middle">9000</text>
<text x="345.8" y="784.77" font-size="37.5" text-anchor="end">−1</text>
<text x="345.8" y="662.37" font-size="37.5" text-anchor="end">0</text>
<text x="345.8" y="539.96" font-size="37.5" text-anchor="end">1</text>
<text x="345.8" y="417.56" font-size="37.5" text-anchor="end">2</text>
<text x="345.8" y="295.16" font-size="37.5" text-anchor="end">3</text>
<text x="345.8" y="172.75" font-size="37.5" text-anchor="end">4</text>
<text x="1537.5" y="83" font-size="50" text-anchor="middle">Spectrum of object 117010041 in candels-cdfs-17</text>
<text x="1537.5" y="887.5" font-size="33.33" text-anchor="middle">Wavelength</text>
<g transform="translate(262.3 709.3) rotate(-90)"><text font-size="50"><tspan x="-5.5" y="0">1</tspan><tspan x="21.5" y="0">0</tspan><tspan x="54.4" y="-19.2" font-size="32.5">−</tspan><tspan x="79.4" y="-19.2" font-size="32.5">1</tspan><tspan x="100.2" y="-19.2" font-size="32.5">8</tspan><tspan x="120.0" y="0"> </tspan><tspan x="137.5" y="0">e</tspan><tspan x="163.9" y="0">r</tspan><tspan x="185.0" y="0">g</tspan><tspan x="212.0" y="0"> </tspan><tspan x="228.8" y="0">s</tspan><tspan x="253.3" y="-19.2" font-size="32.5">−</tspan><tspan x="280.2" y="-19.2" font-size="32.5">1</tspan><tspan x="299.0" y="0"> </tspan><tspan x="309.2" y="0">c</tspan><tspan x="332.7" y="0">m</tspan><tspan x="380.2" y="-19.2" font-size="32.5">−</tspan><tspan x="405.5" y="-19.2" font-size="32.5">2</tspan><tspan x="424.0" y="0"> </tspan><tspan x="435.6" y="0">Å</tspan><tspan x="467.5" y="-19.2" font-size="32.5">−</tspan><tspan x="494.5" y="-19.2" font-size="32.5">1</tspan></text></g>
</g>
</svg>
</body></html>
